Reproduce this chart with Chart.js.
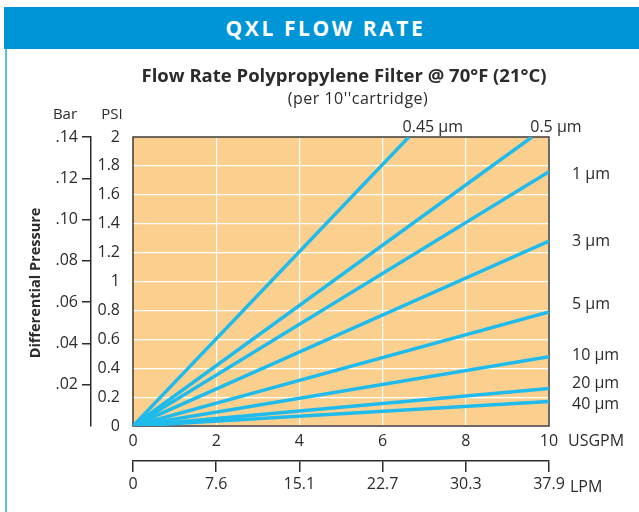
<!DOCTYPE html>
<html>
<head>
<meta charset="utf-8">
<script src="https://cdn.jsdelivr.net/npm/chart.js@4/dist/chart.umd.min.js"></script>
<style>
  html, body { margin: 0; padding: 0; background: #fff; }
  #wrap { position: relative; width: 639px; height: 512px; overflow: hidden; }
  #header {
    position: absolute; left: 4px; top: 7px; width: 627px; height: 42px; padding-left: 8px;
    background: #0095d6; color: #fff; text-align: center;
    font: bold 21px "Open Sans", sans-serif; letter-spacing: 2.6px; line-height: 42px;
  }
  #sideline { position: absolute; left: 5px; top: 49px; width: 2px; height: 463px; background: #5bbdea; }
  #chart { position: absolute; left: 0; top: 0; }
</style>
</head>
<body>
<div id="wrap">
  <div id="header">QXL FLOW RATE</div>
  <div id="sideline"></div>
  <canvas id="chart" width="639" height="512"></canvas>
</div>
<script>
// filter ratings and where each line ends (USGPM, PSI)
const filterLabels = ['0.45 µm', '0.5 µm', '1 µm', '3 µm', '5 µm', '10 µm', '20 µm', '40 µm'];
const endFlow = [6.63, 9.59, 10, 10, 10, 10, 10, 10];
const endPsi = [2, 2, 1.76, 1.28, 0.79, 0.48, 0.26, 0.17];

const usgpmTicks = [0, 2, 4, 6, 8, 10];
const lpmTicks = ['0', '7.6', '15.1', '22.7', '30.3', '37.9'];

const lineColor = '#1fbbec';
const inkColor = '#2b2b2b';
const plotFill = '#fbd08f';
const tickFont = { family: 'Open Sans', size: 16 };

// small vertical nudges so the right-hand labels sit like the original
const labelNudge = { '1 µm': 3, '5 µm': -7, '10 µm': -1, '20 µm': -5, '40 µm': 3 };

const datasets = filterLabels.map((label, i) => ({
    label: label,
    data: [{ x: 0, y: 0 }, { x: endFlow[i], y: endPsi[i] }],
    borderColor: lineColor,
    borderWidth: 3.5,
    pointRadius: 0,
    fill: false,
    tension: 0
}));

const framePlugin = {
    id: 'frame',
    beforeDraw(chart) {
        const { ctx, chartArea: a } = chart;
        ctx.save();
        ctx.fillStyle = plotFill;
        ctx.fillRect(a.left, a.top, a.right - a.left, a.bottom - a.top);
        ctx.restore();
    },
    beforeDatasetsDraw(chart) {
        const { ctx, chartArea: a } = chart;
        ctx.save();
        ctx.strokeStyle = '#3c3835';
        ctx.lineWidth = 1.5;
        ctx.strokeRect(a.left, a.top, a.right - a.left, a.bottom - a.top);
        ctx.restore();
    },
    afterDraw(chart) {
        const { ctx, chartArea: a, scales } = chart;
        const x = scales.x, y = scales.y;
        ctx.save();
        ctx.fillStyle = inkColor;

        // titles
        ctx.textAlign = 'center';
        ctx.textBaseline = 'middle';
        ctx.font = 'bold 18.5px "Open Sans"';
        ctx.fillText('Flow Rate Polypropylene Filter @ 70°F (21°C)', 344, 77);
        ctx.font = '16px "Open Sans"';
        ctx.letterSpacing = '0.5px';
        ctx.fillText("(per 10''cartridge)", 358, 99);
        ctx.letterSpacing = '0px';

        // axis headers
        ctx.font = '15px "Open Sans"';
        ctx.fillText('Bar', 65, 115);
        ctx.fillText('PSI', 112, 115);

        ctx.save();
        ctx.translate(36, 283);
        ctx.rotate(-Math.PI / 2);
        ctx.font = 'bold 14.5px "Open Sans"';
        ctx.fillText('Differential Pressure', 0, 0);
        ctx.restore();

        // unit labels
        ctx.textAlign = 'left';
        ctx.font = '16px "Open Sans"';
        ctx.fillText('USGPM', 568, 441);
        ctx.fillText('LPM', 570, 487);

        // filter labels at line ends
        filterLabels.forEach((label, i) => {
            const px = x.getPixelForValue(endFlow[i]);
            const py = y.getPixelForValue(endPsi[i]);
            if (endPsi[i] >= 2) {
                ctx.textAlign = 'center';
                ctx.fillText(label, px + 24, a.top - 10);
            } else {
                ctx.textAlign = 'left';
                ctx.fillText(label, a.right + 23, py + (labelNudge[label] || 0));
            }
        });
        ctx.restore();
    }
};

new Chart(document.getElementById('chart'), {
    type: 'line',
    data: { datasets: datasets },
    plugins: [framePlugin],
    options: {
        responsive: false,
        animation: false,
        layout: { padding: { top: 137, right: 90, bottom: 11, left: 51 } },
        plugins: { legend: { display: false }, tooltip: { enabled: false } },
        scales: {
            x: {
                type: 'linear', position: 'bottom', min: 0, max: 10, weight: 0,
                afterFit(s) { s.height = 35; },
                afterBuildTicks(s) { s.ticks = usgpmTicks.map(v => ({ value: v })); },
                grid: { color: '#ffffff', lineWidth: 1.2, drawTicks: false },
                border: { display: false },
                ticks: { color: inkColor, font: tickFont, padding: 6, maxRotation: 0 }
            },
            xLpm: {
                type: 'linear', position: 'bottom', min: 0, max: 10, weight: 1,
                afterFit(s) { s.height = 40; },
                afterBuildTicks(s) { s.ticks = usgpmTicks.map(v => ({ value: v })); },
                grid: { drawOnChartArea: false, drawTicks: true, tickLength: 11, color: inkColor, lineWidth: 1.5 },
                border: { display: true, color: inkColor, width: 1.5 },
                ticks: { color: inkColor, font: tickFont, padding: 3, maxRotation: 0,
                    callback: (v, i) => lpmTicks[i] }
            },
            y: {
                type: 'linear', position: 'left', min: 0, max: 2, weight: 0,
                afterFit(s) { s.width = 42; },
                grid: { color: '#ffffff', lineWidth: 1.2, drawTicks: false },
                border: { display: false },
                ticks: { stepSize: 0.2, color: inkColor, font: tickFont, padding: 13,
                    callback: v => String(parseFloat(v.toFixed(1))) }
            },
            yBar: {
                type: 'linear', position: 'left', min: 0, max: 0.14, weight: 1,
                afterFit(s) { s.width = 40; },
                grid: { drawOnChartArea: false, drawTicks: true, tickLength: 9,
                    color: c => c.tick && c.tick.value === 0 ? 'rgba(0,0,0,0)' : inkColor, lineWidth: 1.5 },
                border: { display: true, color: inkColor, width: 1.5 },
                ticks: { stepSize: 0.02, color: inkColor, font: tickFont, padding: 4,
                    callback: v => v === 0 ? '' : v.toFixed(2).replace(/^0/, '') }
            }
        }
    }
});
</script>
</body>
</html>
